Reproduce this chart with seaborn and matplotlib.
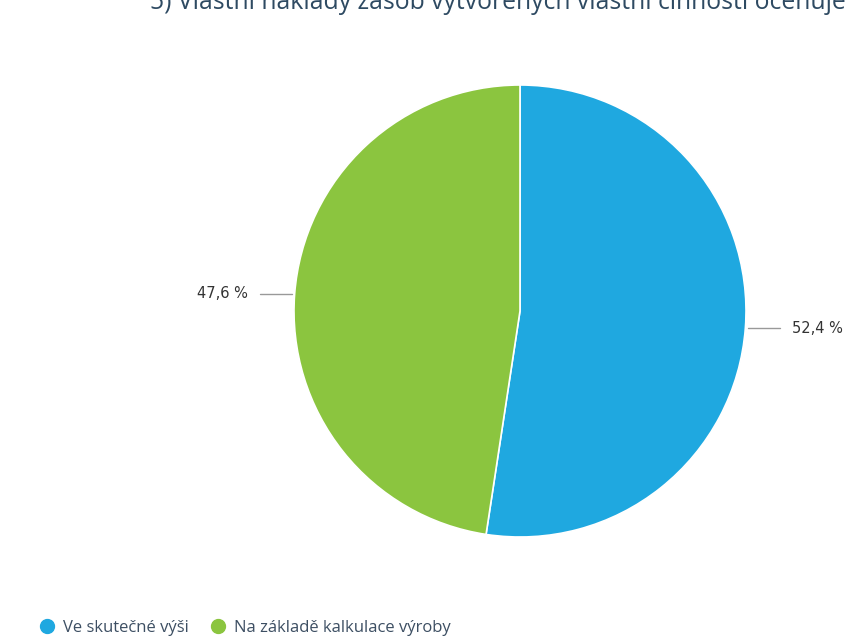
import numpy as np
import seaborn as sns
import matplotlib.pyplot as plt
from matplotlib.lines import Line2D

# data
categories = ["Ve skutečné výši", "Na základě kalkulace výroby"]
shares = [52.4, 47.6]
colors = ["#1fa8e0", "#8bc53f"]
title = "5) Vlastní náklady zásob vytvořených vlastní činností oceňuje účetní jednotka"

sns.set_theme(style="white")
plt.rcParams['font.family'] = ['Open Sans', 'DejaVu Sans']

fig = plt.figure(figsize=(8.46, 6.36), dpi=100)
ax = fig.add_axes([0, 0, 1, 1])

cx, cy, r = 520, 636 - 311, 226
wedges, _ = ax.pie(shares, colors=colors, startangle=90, counterclock=False,
                   center=(cx, cy), radius=r, frame=True,
                   wedgeprops=dict(edgecolor="white", linewidth=1.2))
ax.set_xlim(0, 846)
ax.set_ylim(0, 636)
ax.axis("off")

# labels with leader lines
for w, val in zip(wedges, shares):
    ang = np.deg2rad((w.theta1 + w.theta2) / 2)
    x0 = cx + r * np.cos(ang)
    y0 = cy + r * np.sin(ang)
    side = 1 if np.cos(ang) > 0 else -1
    x1 = x0 + side * 35
    ax.plot([x0 + side * 3, x1], [y0, y0], color="#999999", lw=1)
    ax.text(x1 + side * 12, y0, f"{val:.1f} %".replace(".", ","),
            ha="left" if side > 0 else "right", va="center",
            fontsize=10.5, color="#333333", family=['DejaVu Sans'])

# title, cut at the top like in the original
ax.text(150, 636 - 9, title, fontsize=17.8, color="#2e4a62",
        ha="left", va="baseline", clip_on=False)

handles = [Line2D([0], [0], marker="o", color="none", markerfacecolor=c,
                  markeredgecolor=c, markersize=10) for c in colors]
fig.legend(handles, categories, loc="lower left", bbox_to_anchor=(0.028, -0.024),
           ncol=2, frameon=False, fontsize=12, handletextpad=0.45,
           columnspacing=1.25, handlelength=1.0, labelcolor="#3d4f63")

fig.savefig("out.png", dpi=100)
